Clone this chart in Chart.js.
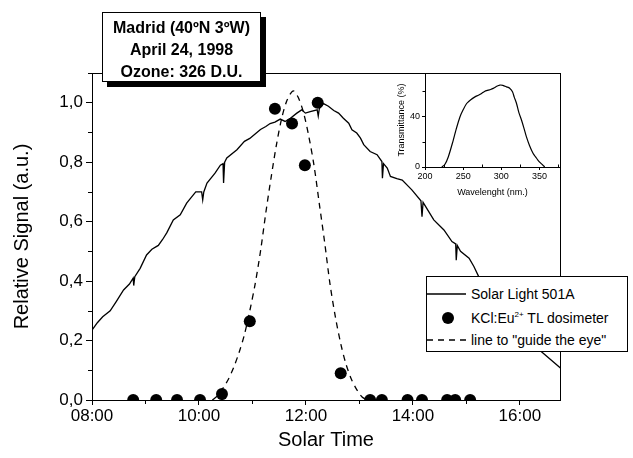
<!DOCTYPE html>
<html>
<head>
<meta charset="utf-8">
<script src="https://cdn.jsdelivr.net/npm/chart.js@4/dist/chart.umd.min.js"></script>
<style>
  body { margin: 0; background: #fff; }
  #wrap { position: relative; width: 633px; height: 458px; font-family: "Liberation Sans", Arial, sans-serif; }
  canvas { position: absolute; left: 0; top: 0; }
  #titleBox {
    position: absolute; left: 102px; top: 12px; width: 159px; height: 70px;
    border: 1px solid #000; background: #fff; box-shadow: 5px 5px 0 #000;
    text-align: center; font-weight: bold; font-size: 16px; line-height: 22px;
    padding-top: 4px; box-sizing: border-box;
  }
  #legend {
    position: absolute; left: 426px; top: 276px; width: 202px; height: 76px;
    border: 1px solid #000; background: #fff; font-size: 14px; box-sizing: border-box;
  }
  #legend .row { position: absolute; left: 0; height: 20px; width: 200px; }
  #legend svg { position: absolute; left: 0; top: 0; }
  #legend span { position: absolute; left: 44px; top: 2px; white-space: nowrap; }
  #legend sup { font-size: 8px; }
</style>
</head>
<body>
<div id="wrap">
  <canvas id="main" width="633" height="458"></canvas>
  <canvas id="inset" width="633" height="458"></canvas>
  <div id="titleBox">Madrid (40ºN 3ºW)<br>April 24, 1998<br>Ozone: 326 D.U.</div>
  <div id="legend">
    <div class="row" style="top:7px">
      <svg width="42" height="20"><line x1="0" y1="10" x2="39" y2="10" stroke="#000" stroke-width="1.3"/></svg>
      <span>Solar Light 501A</span>
    </div>
    <div class="row" style="top:31px">
      <svg width="42" height="20"><circle cx="21" cy="10" r="6" fill="#000"/></svg>
      <span>KCl:Eu<sup>2+</sup> TL dosimeter</span>
    </div>
    <div class="row" style="top:53px">
      <svg width="42" height="20"><line x1="0" y1="10" x2="42" y2="10" stroke="#000" stroke-width="1.3" stroke-dasharray="6,5"/></svg>
      <span>line to "guide the eye"</span>
    </div>
  </div>
</div>
<script>
// Solar Light 501A (hours, relative signal)
const solarTime = [8.00, 8.10, 8.20, 8.34, 8.45, 8.59, 8.70, 8.77, 8.78, 8.80, 8.90, 9.02, 9.12, 9.24, 9.32, 9.40, 9.52, 9.65, 9.77, 9.83, 9.94, 10.05, 10.07, 10.09, 10.15, 10.30, 10.40, 10.45, 10.46, 10.48, 10.52, 10.71, 10.85, 10.95, 11.05, 11.15, 11.25, 11.33, 11.42, 11.52, 11.61, 11.71, 11.83, 11.92, 11.99, 12.08, 12.21, 12.23, 12.25, 12.33, 12.42, 12.52, 12.61, 12.70, 12.80, 12.86, 12.95, 13.02, 13.08, 13.20, 13.33, 13.42, 13.43, 13.45, 13.52, 13.58, 13.70, 13.80, 13.98, 14.15, 14.17, 14.19, 14.39, 14.58, 14.73, 14.80, 14.81, 14.83, 14.89, 15.05, 15.14, 15.23, 15.50, 15.80, 16.10, 16.42, 16.76];
const solarSignal = [0.235, 0.26, 0.28, 0.30, 0.33, 0.37, 0.39, 0.41, 0.385, 0.415, 0.443, 0.488, 0.507, 0.52, 0.54, 0.563, 0.606, 0.623, 0.662, 0.676, 0.70, 0.70, 0.673, 0.70, 0.73, 0.763, 0.79, 0.795, 0.73, 0.80, 0.814, 0.842, 0.87, 0.88, 0.895, 0.91, 0.92, 0.93, 0.935, 0.945, 0.937, 0.948, 0.965, 0.976, 0.965, 0.97, 0.976, 0.955, 0.98, 0.997, 0.988, 0.974, 0.965, 0.948, 0.931, 0.909, 0.898, 0.881, 0.859, 0.836, 0.825, 0.802, 0.746, 0.795, 0.78, 0.752, 0.745, 0.74, 0.707, 0.67, 0.617, 0.665, 0.606, 0.572, 0.533, 0.525, 0.47, 0.52, 0.50, 0.477, 0.449, 0.415, 0.35, 0.28, 0.21, 0.16, 0.107];

// KCl:Eu2+ TL dosimeter
const doseTime = [8.77, 9.20, 9.59, 10.02, 10.43, 10.95, 11.42, 11.74, 11.98, 12.22, 12.65, 13.20, 13.42, 13.90, 14.17, 14.64, 14.79, 15.07];
const doseSignal = [0, 0, 0, 0, 0.02, 0.265, 0.98, 0.93, 0.79, 1.0, 0.09, 0, 0, 0, 0, 0, 0, 0];

// dashed guide line
const guideTime = [10.25, 10.35, 10.45, 10.55, 10.65, 10.75, 10.85, 10.95, 11.05, 11.15, 11.25, 11.35, 11.45, 11.55, 11.65, 11.76, 11.85, 11.95, 12.05, 12.15, 12.25, 12.35, 12.45, 12.55, 12.65, 12.75, 12.85, 12.95, 13.05, 13.15];
const guideSignal = [0.0, 0.015, 0.04, 0.07, 0.11, 0.16, 0.22, 0.30, 0.39, 0.50, 0.63, 0.75, 0.86, 0.95, 1.01, 1.04, 1.02, 0.97, 0.89, 0.79, 0.66, 0.53, 0.39, 0.28, 0.19, 0.12, 0.07, 0.035, 0.01, 0.0];

// inset: transmittance of the dosimeter
const waveNm = [222, 226, 230.5, 237, 241, 245.8, 250, 254.6, 260, 265.5, 270, 274.2, 278, 282.9, 286, 289.5, 294, 298.2, 302, 307, 311, 314.7, 317, 320, 323, 326.6, 330, 333, 337, 341.8, 345, 348, 351, 354, 357];
const transmittance = [0, 2, 7.9, 21, 30, 39.4, 45, 50, 53, 55.2, 56.5, 57.9, 59.5, 60.5, 61, 61.9, 63.5, 64.5, 64.3, 63.1, 62, 59.2, 55, 50, 43, 36.8, 30, 23.7, 17, 10.6, 8, 5.5, 3.5, 1.8, 0];

const xMinor = [9, 11, 13, 15];
const yMinor = [0.1, 0.3, 0.5, 0.7, 0.9, 1.1];
const insetXMinor = [225, 275, 325, 375];
const insetYMinor = [20, 60];

const FONT = '"Liberation Sans", Arial, sans-serif';
const zip = (xs, ys) => xs.map((x, i) => ({ x, y: ys[i] }));

// frame + minor ticks
const framePlugin = {
  id: 'frame',
  afterDraw(chart, args, opts) {
    const { ctx, chartArea: a } = chart;
    ctx.save();
    ctx.strokeStyle = '#000';
    ctx.lineWidth = 1;
    ctx.strokeRect(Math.round(a.left) + 0.5, Math.round(a.top) + 0.5, Math.round(a.right - a.left), Math.round(a.bottom - a.top));
    ctx.beginPath();
    const xs = chart.scales.x, ys = chart.scales.y;
    opts.xMinor.forEach(v => {
      const px = Math.round(xs.getPixelForValue(v)) + 0.5;
      const dir = opts.xInward ? -1 : 1;
      ctx.moveTo(px, a.bottom);
      ctx.lineTo(px, a.bottom + dir * opts.len);
    });
    opts.yMinor.forEach(v => {
      const py = Math.round(ys.getPixelForValue(v)) + 0.5;
      ctx.moveTo(a.left, py);
      ctx.lineTo(a.left - opts.len, py);
    });
    ctx.stroke();
    ctx.restore();
  }
};

const hours = v => (v < 10 ? '0' : '') + v + ':00';

new Chart(document.getElementById('main'), {
  type: 'line',
  data: {
    datasets: [
      {
        label: 'Solar Light 501A',
        data: zip(solarTime, solarSignal),
        borderColor: '#000',
        borderWidth: 1.3,
        pointRadius: 0,
        tension: 0,
      },
      {
        label: 'KCl:Eu2+ TL dosimeter',
        data: zip(doseTime, doseSignal),
        showLine: false,
        pointRadius: 6,
        pointBackgroundColor: '#000',
        pointBorderWidth: 0,
      },
      {
        label: 'line to "guide the eye"',
        data: zip(guideTime, guideSignal),
        borderColor: '#000',
        borderWidth: 1.3,
        borderDash: [6, 5],
        pointRadius: 0,
        tension: 0.3,
      },
    ],
  },
  options: {
    responsive: false,
    animation: false,
    layout: { padding: { left: 0, top: 73, right: 73, bottom: 0 } },
    plugins: {
      legend: { display: false },
      tooltip: { enabled: false },
      frame: { xMinor, yMinor, len: 4, xInward: false },
    },
    scales: {
      x: {
        type: 'linear',
        min: 8,
        max: 16.75,
        afterFit: s => { s.height = 58; },
        ticks: { stepSize: 2, includeBounds: false, callback: hours, color: '#000', font: { family: FONT, size: 17 }, padding: 1, maxRotation: 0 },
        grid: { drawOnChartArea: false, tickLength: 5, color: '#000', tickColor: '#000' },
        border: { color: '#000' },
        title: { display: true, text: 'Solar Time', color: '#000', font: { family: FONT, size: 20 }, padding: { top: 0, bottom: 6 } },
      },
      y: {
        min: 0,
        max: 1.1,
        afterFit: s => { s.width = 92; },
        ticks: { stepSize: 0.2, includeBounds: false, callback: v => v.toFixed(1).replace('.', ','), color: '#000', font: { family: FONT, size: 17 }, padding: 3 },
        grid: { drawOnChartArea: false, tickLength: 6, color: '#000', tickColor: '#000' },
        border: { color: '#000' },
        title: { display: true, text: 'Relative Signal (a.u.)', color: '#000', font: { family: FONT, size: 20 }, padding: { top: 10, bottom: 0 } },
      },
    },
  },
  plugins: [framePlugin],
});

new Chart(document.getElementById('inset'), {
  type: 'line',
  data: {
    datasets: [{
      data: zip(waveNm, transmittance),
      borderColor: '#000',
      borderWidth: 1.2,
      pointRadius: 0,
      tension: 0.3,
    }],
  },
  options: {
    responsive: false,
    animation: false,
    layout: { padding: { left: 395, top: 73, right: 73, bottom: 259 } },
    plugins: {
      legend: { display: false },
      tooltip: { enabled: false },
      frame: { xMinor: insetXMinor.filter(v => v < 377), yMinor: insetYMinor, len: 2.5, xInward: true },
    },
    scales: {
      x: {
        type: 'linear',
        min: 200,
        max: 377,
        afterFit: s => { s.height = 32; },
        ticks: { stepSize: 50, includeBounds: false, color: '#000', font: { family: FONT, size: 9 }, padding: 1, maxRotation: 0 },
        grid: { drawOnChartArea: false, tickLength: 3, color: '#000', tickColor: '#000' },
        border: { color: '#000' },
        title: { display: true, text: 'Wavelenght (nm.)', color: '#000', font: { family: FONT, size: 9 }, padding: { top: 0, bottom: 1 } },
      },
      y: {
        min: 0,
        max: 74,
        afterFit: s => { s.width = 30; },
        ticks: { stepSize: 40, includeBounds: false, color: '#000', font: { family: FONT, size: 9 }, padding: 2 },
        grid: { drawOnChartArea: false, tickLength: 3, color: '#000', tickColor: '#000' },
        border: { color: '#000' },
        title: { display: true, text: 'Transmittance (%)', color: '#000', font: { family: FONT, size: 9 }, padding: { top: 1, bottom: 0 } },
      },
    },
  },
  plugins: [framePlugin],
});
</script>
</body>
</html>
